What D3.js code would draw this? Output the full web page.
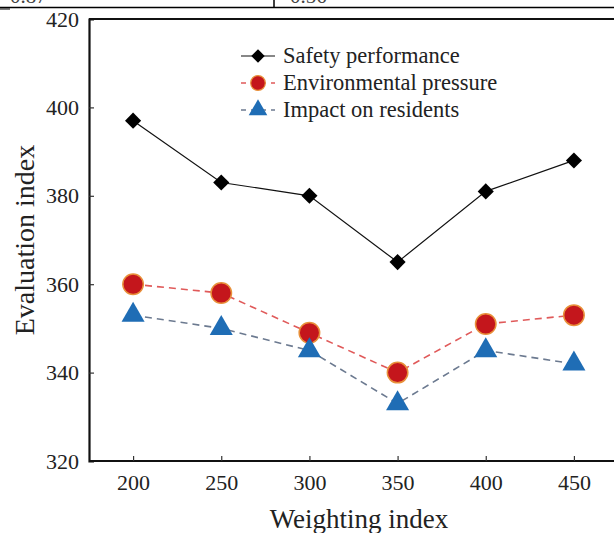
<!DOCTYPE html>
<html><head><meta charset="utf-8">
<script src="https://cdn.jsdelivr.net/npm/d3@7"></script>
<style>body{margin:0;background:#fff;} svg{display:block;}</style>
</head><body>
<script>
const weights = [200, 250, 300, 350, 400, 450];
const safety = [397, 383, 380, 365, 381, 388];
const environmental = [360, 358, 349, 340, 351, 353];
const impact = [353, 350, 345, 333, 345, 342];
const yTicks = [320, 340, 360, 380, 400, 420];
const xTicks = [200, 250, 300, 350, 400, 450];
const seriesNames = ["Safety performance", "Environmental pressure", "Impact on residents"];
const tableFragment = ["0.87", "0.56"];

const W = 614, H = 533;
const svg = d3.select("body").append("svg").attr("width", W).attr("height", H);
const font = "'Liberation Serif', 'Times New Roman', serif";

// table fragment at top
svg.append("line").attr("x1", 0).attr("x2", W).attr("y1", 7.5).attr("y2", 7.5).attr("stroke", "#000").attr("stroke-width", 1.5);
svg.append("line").attr("x1", 274).attr("x2", 274).attr("y1", 0).attr("y2", 7).attr("stroke", "#000").attr("stroke-width", 1.5);
svg.append("line").attr("x1", 0).attr("x2", 10).attr("y1", 9).attr("y2", 9).attr("stroke", "#000").attr("stroke-width", 1);
svg.selectAll("text.frag").data(tableFragment).join("text").attr("class", "frag")
  .attr("x", (d, i) => i === 0 ? 10 : 290).attr("y", 3).attr("font-family", font).attr("font-size", 21).attr("fill", "#444").text(d => d);

const L = 89, R = 618, T = 19, B = 461;
const x = d3.scaleLinear().domain([175, 475]).range([L, R]);
const y = d3.scaleLinear().domain([320, 420]).range([B, T]);

// frame
svg.append("line").attr("x1", L).attr("x2", W).attr("y1", T).attr("y2", T).attr("stroke", "#111").attr("stroke-width", 2.2);

const yAxis = svg.append("g").attr("transform", `translate(${L},0)`)
  .call(d3.axisLeft(y).tickValues(yTicks).tickSize(-5).tickPadding(10).tickFormat(d3.format("d")));
const xAxis = svg.append("g").attr("transform", `translate(0,${B})`)
  .call(d3.axisBottom(x).tickValues(xTicks).tickSize(-5).tickPadding(13).tickFormat(d3.format("d")));
[yAxis, xAxis].forEach(g => {
  g.select(".domain").attr("stroke", "#111").attr("stroke-width", 2.2);
  g.selectAll(".tick line").attr("stroke", "#333").attr("stroke-width", 1.2);
  g.selectAll(".tick text").attr("font-family", font).attr("font-size", 22).attr("fill", "#222");
});
yAxis.selectAll(".tick").filter(d => d === 320 || d === 420).select("line").remove();
xAxis.select(".domain").attr("d", `M${L},0H${W}`);

// axis titles
svg.append("text").attr("transform", `translate(34,240) rotate(-90)`).attr("text-anchor", "middle")
  .attr("font-family", font).attr("font-size", 28).attr("fill", "#222").text("Evaluation index");
svg.append("text").attr("x", 359).attr("y", 528).attr("text-anchor", "middle")
  .attr("font-family", font).attr("font-size", 27).attr("fill", "#222").text("Weighting index");

const line = d3.line().x((d, i) => x(weights[i])).y(d => y(d));

// series lines
svg.append("path").datum(safety).attr("d", line).attr("fill", "none").attr("stroke", "#111").attr("stroke-width", 1.2);
svg.append("path").datum(environmental).attr("d", line).attr("fill", "none").attr("stroke", "#e05a5a").attr("stroke-width", 1.6).attr("stroke-dasharray", "7,5");
svg.append("path").datum(impact).attr("d", line).attr("fill", "none").attr("stroke", "#6c7a90").attr("stroke-width", 1.6).attr("stroke-dasharray", "7,5");

const diamond = d3.symbol().type(d3.symbolSquare).size(130);
const circleSym = d3.symbol().type(d3.symbolCircle).size(330);
const triSym = d3.symbol().type(d3.symbolTriangle).size(230);

svg.append("g").selectAll("path").data(safety).join("path")
  .attr("d", diamond).attr("transform", (d, i) => `translate(${x(weights[i])},${y(d)}) rotate(45)`).attr("fill", "#000");
svg.append("g").selectAll("path").data(environmental).join("path")
  .attr("d", circleSym).attr("transform", (d, i) => `translate(${x(weights[i])},${y(d)})`)
  .attr("fill", "#c4161c").attr("stroke", "#e8903a").attr("stroke-width", 1.5);
svg.append("g").selectAll("path").data(impact).join("path")
  .attr("d", triSym).attr("transform", (d, i) => `translate(${x(weights[i])},${y(d)})`).attr("fill", "#1f6db5");

// legend
const lg = svg.append("g");
const rows = [56, 83, 110];
const lx1 = 241, lx2 = 275, lmx = 258;
lg.append("line").attr("x1", lx1).attr("x2", lx2).attr("y1", rows[0]).attr("y2", rows[0]).attr("stroke", "#111").attr("stroke-width", 1.2);
lg.append("path").attr("d", d3.symbol().type(d3.symbolSquare).size(90)).attr("transform", `translate(${lmx},${rows[0]}) rotate(45)`).attr("fill", "#000");
lg.append("line").attr("x1", lx1).attr("x2", lx2).attr("y1", rows[1]).attr("y2", rows[1]).attr("stroke", "#e05a5a").attr("stroke-width", 1.6).attr("stroke-dasharray", "5,5");
lg.append("path").attr("d", d3.symbol().type(d3.symbolCircle).size(170)).attr("transform", `translate(${lmx},${rows[1]})`).attr("fill", "#c4161c").attr("stroke", "#e8903a").attr("stroke-width", 1.2);
lg.append("line").attr("x1", lx1).attr("x2", lx2).attr("y1", rows[2]).attr("y2", rows[2]).attr("stroke", "#6c7a90").attr("stroke-width", 1.6).attr("stroke-dasharray", "5,5");
lg.append("path").attr("d", d3.symbol().type(d3.symbolTriangle).size(150)).attr("transform", `translate(${lmx},${rows[2]})`).attr("fill", "#1f6db5");
lg.selectAll("text").data(seriesNames).join("text")
  .attr("x", 283).attr("y", (d, i) => rows[i] + 7).attr("font-family", font).attr("font-size", 22.5).attr("fill", "#222").text(d => d);
</script>
</body></html>
